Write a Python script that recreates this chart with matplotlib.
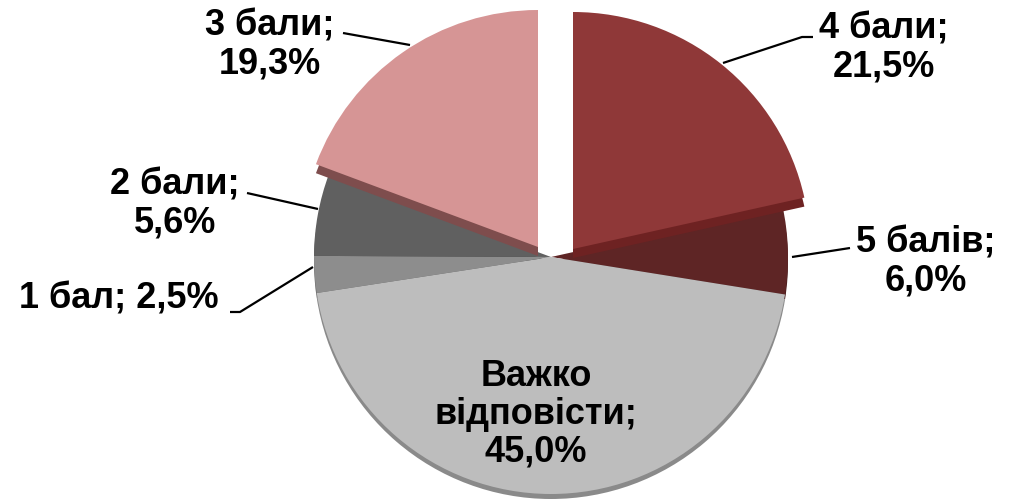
import matplotlib
import matplotlib.pyplot as plt

matplotlib.use("Agg")
plt.rcParams["font.family"] = ["Liberation Sans", "DejaVu Sans"]

# data, clockwise from 12 o'clock
labels = ["4 бали", "5 балів", "Важко\nвідповісти", "1 бал", "2 бали", "3 бали"]
shares = [21.5, 6.0, 45.0, 2.5, 5.6, 19.3]
label_seps = ["\n", "\n", "\n", " ", "\n", "\n"]

face_colors = ["#8F3838", "#5E2525", "#BDBDBD", "#8D8D8D", "#606060", "#D69595"]
rim_colors = ["#6E2222", "#451919", "#8A8A8A", "#6A6A6A", "#474747", "#7E4D4D"]

# pixel-like layout (y up)
CX, CY, R = 551, 242, 237
RIM = 5
exploded = {0: (22, 8), 5: (-13, 10)}
EXP_RIM = 9

label_pos = [
    (884, 451, "center"),
    (926, 237, "center"),
    (536, 85, "center"),
    (19, 200, "left"),
    (175, 295, "center"),
    (270, 454, "center"),
]
leaders = [
    [(723, 436), (802, 462), (813, 462)],
    [(792, 242), (850, 251)],
    None,
    [(313, 232), (240, 187), (230, 187)],
    [(318, 290), (247, 306)],
    [(410, 454), (343, 466)],
]


def fmt(v):
    return f"{v:.1f}%".replace(".", ",")


def main():
    fig = plt.figure(figsize=(10.10, 4.99), dpi=100)
    ax = fig.add_axes([0, 0, 1, 1])

    rims, _ = ax.pie(shares, colors=rim_colors, startangle=90, counterclock=False,
                     radius=R, center=(CX, CY - RIM),
                     wedgeprops=dict(linewidth=0))
    faces, _ = ax.pie(shares, colors=face_colors, startangle=90, counterclock=False,
                      radius=R, center=(CX, CY),
                      wedgeprops=dict(linewidth=0))

    for i, (dx, dy) in exploded.items():
        rims[i].set_center((CX + dx, CY + dy - EXP_RIM))
        rims[i].set_zorder(3)
        faces[i].set_center((CX + dx, CY + dy))
        faces[i].set_zorder(4)

    for i, (name, val) in enumerate(zip(labels, shares)):
        x, y, ha = label_pos[i]
        ax.text(x, y, f"{name};{label_seps[i]}{fmt(val)}", ha=ha, va="center",
                multialignment="center", fontsize=26, fontweight="bold",
                color="black", zorder=6, linespacing=1.1)
        if leaders[i]:
            xs, ys = zip(*leaders[i])
            ax.plot(xs, ys, color="black", lw=1.6, zorder=5,
                    solid_capstyle="butt")

    ax.set_xlim(0, 1010)
    ax.set_ylim(0, 499)
    ax.set_aspect("equal")
    ax.axis("off")
    fig.savefig("out.png", dpi=100)


if __name__ == "__main__":
    main()
